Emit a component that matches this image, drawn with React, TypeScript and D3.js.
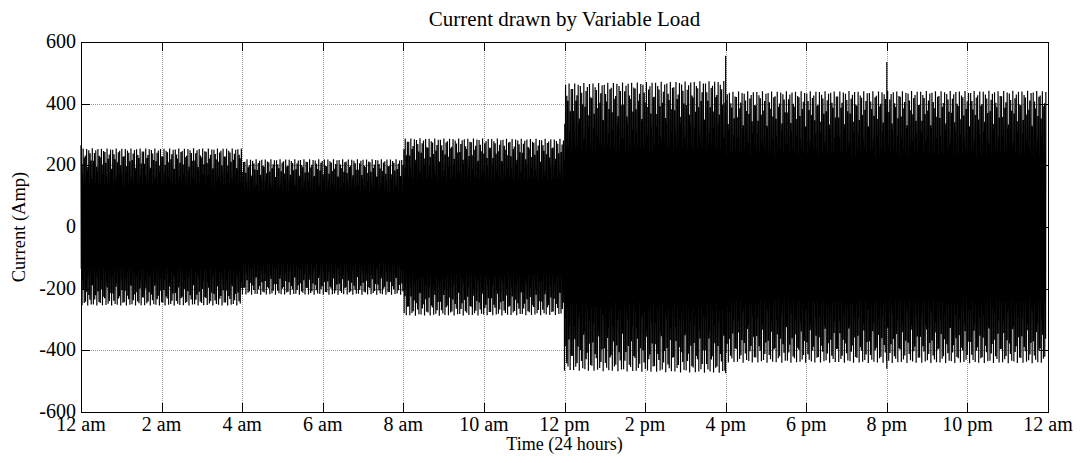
import React from "react";
import * as d3 from "d3";

// ---- Data ----
const segmentStartHour = [0, 4, 8, 12, 16];
const segmentEndHour = [4, 8, 12, 16, 24];
const segmentAmpStart = [255, 220, 288, 466, 440];
const segmentAmpEnd = [255, 220, 286, 474, 442];

// transient spikes at load switching instants
const spikeHour = [0, 16, 16, 20, 20];
const spikeValue = [265, 555, -474, 535, -460];

const xTickHours = [0, 2, 4, 6, 8, 10, 12, 14, 16, 18, 20, 22, 24];
const xTickLabels = ["12 am", "2 am", "4 am", "6 am", "8 am", "10 am", "12 pm", "2 pm", "4 pm", "6 pm", "8 pm", "10 pm", "12 am"];
const yTicks = [-600, -400, -200, 0, 200, 400, 600];

const TITLE = "Current drawn by Variable Load";
const X_LABEL = "Time (24 hours)";
const Y_LABEL = "Current (Amp)";

// sampling of the AC waveform (supply frequency, time-compressed)
const SAMPLES_PER_HOUR = 150;
const CYCLES_PER_SAMPLE = 0.381966;
const END_HOUR = 23.95;

const W = 1080;
const H = 463;
const M = { left: 81, right: 1048, top: 42, bottom: 412 };
const FONT = "'Liberation Serif', 'Times New Roman', serif";

function ampAt(t: number): number {
  for (let i = 0; i < segmentStartHour.length; i++) {
    const s = segmentStartHour[i];
    const e = segmentEndHour[i];
    if (t >= s && (t < e || i === segmentStartHour.length - 1)) {
      const f = (t - s) / (e - s);
      return segmentAmpStart[i] + (segmentAmpEnd[i] - segmentAmpStart[i]) * f;
    }
  }
  return 0;
}

function buildSignal(): [number, number][] {
  const pts: [number, number][] = [];
  const n = Math.floor(END_HOUR * SAMPLES_PER_HOUR);
  let spikeIdx = 0;
  for (let k = 0; k <= n; k++) {
    const t = k / SAMPLES_PER_HOUR;
    while (spikeIdx < spikeHour.length && spikeHour[spikeIdx] <= t) {
      pts.push([spikeHour[spikeIdx], spikeValue[spikeIdx]]);
      spikeIdx++;
    }
    const v = ampAt(t) * Math.sin(2 * Math.PI * CYCLES_PER_SAMPLE * k + 1.3);
    pts.push([t, v]);
  }
  return pts;
}

export default function App() {
  const x = d3.scaleLinear().domain([0, 24]).range([M.left, M.right]);
  const y = d3.scaleLinear().domain([-600, 600]).range([M.bottom, M.top]);
  const data = buildSignal();
  const line = d3
    .line<[number, number]>()
    .x((d) => x(d[0]))
    .y((d) => y(d[1]));
  const tickLen = 9;

  return (
    <svg width={W} height={H} style={{ display: "block", position: "absolute", left: 0, top: 0, background: "#fff" }}>
      <rect x={0} y={0} width={W} height={H} fill="#fff" />
      {/* grid */}
      <g stroke="#999" strokeWidth={1} strokeDasharray="1 1">
        {xTickHours.slice(1, -1).map((h) => (
          <line key={"gx" + h} x1={Math.round(x(h)) + 0.5} x2={Math.round(x(h)) + 0.5} y1={M.top} y2={M.bottom} />
        ))}
        {yTicks.slice(1, -1).map((v) => (
          <line key={"gy" + v} x1={M.left} x2={M.right} y1={Math.round(y(v)) + 0.5} y2={Math.round(y(v)) + 0.5} />
        ))}
      </g>
      {/* signal */}
      <path d={line(data) || ""} fill="none" stroke="#000" strokeWidth={1.2} />
      {/* ticks */}
      <g stroke="#000" strokeWidth={1}>
        {xTickHours.map((h) => {
          const px = Math.round(x(h)) + 0.5;
          return (
            <g key={"tx" + h}>
              <line x1={px} x2={px} y1={M.bottom} y2={M.bottom - tickLen} />
              <line x1={px} x2={px} y1={M.top} y2={M.top + tickLen} />
            </g>
          );
        })}
        {yTicks.map((v) => {
          const py = Math.round(y(v)) + 0.5;
          return (
            <g key={"ty" + v}>
              <line x1={M.left} x2={M.left + tickLen} y1={py} y2={py} />
              <line x1={M.right} x2={M.right - tickLen} y1={py} y2={py} />
            </g>
          );
        })}
      </g>
      {/* box */}
      <rect x={M.left + 0.5} y={M.top + 0.5} width={M.right - M.left} height={M.bottom - M.top} fill="none" stroke="#000" strokeWidth={1} />
      {/* tick labels */}
      <g fontFamily={FONT} fontSize={20} fill="#000">
        {xTickHours.map((h, i) => (
          <text key={"lx" + h} x={x(h)} y={M.bottom + 19} textAnchor="middle">
            {xTickLabels[i]}
          </text>
        ))}
        {yTicks.map((v) => (
          <text key={"ly" + v} x={M.left - 5} y={y(v) + 6} textAnchor="end">
            {v}
          </text>
        ))}
      </g>
      <text x={(M.left + M.right) / 2} y={26} textAnchor="middle" fontFamily={FONT} fontSize={21}>
        {TITLE}
      </text>
      <text x={(M.left + M.right) / 2} y={450} textAnchor="middle" fontFamily={FONT} fontSize={18}>
        {X_LABEL}
      </text>
      <text transform={`translate(25, ${(M.top + M.bottom) / 2}) rotate(-90)`} textAnchor="middle" fontFamily={FONT} fontSize={18.5}>
        {Y_LABEL}
      </text>
    </svg>
  );
}
